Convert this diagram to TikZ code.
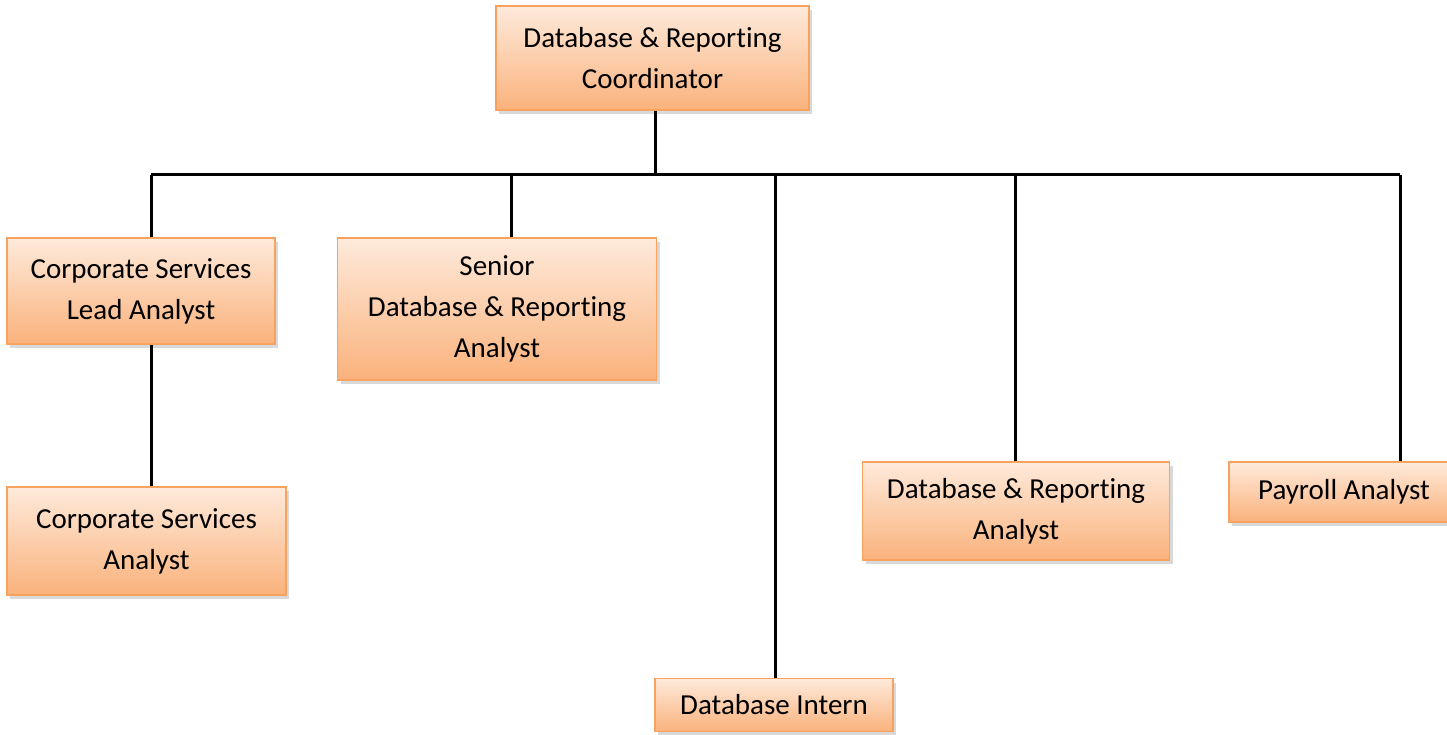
\documentclass[tikz,border=0pt]{standalone}
\usepackage{fontspec}
\setmainfont{Carlito}[Ligatures=NoCommon]
\usetikzlibrary{shadows}
\definecolor{boxtop}{HTML}{FEEADB}
\definecolor{boxbot}{HTML}{FAB27C}
\definecolor{boxline}{HTML}{F7A35F}
\begin{document}
\begin{tikzpicture}[x=1pt,y=-1pt,
    role/.style={rectangle, draw=boxline, line width=1.5pt, top color=boxtop, bottom color=boxbot,
      drop shadow={shadow xshift=3pt, shadow yshift=-4pt, opacity=0.3},
      inner sep=0pt, align=center, font=\fontsize{29}{41}\selectfont},
    link/.style={line width=3pt}]
    \useasboundingbox (0,0) rectangle (1447,735);

    \coordinate (b1) at (151,175);
    \coordinate (b2) at (511,175);
    \coordinate (b3) at (655,175);
    \coordinate (b4) at (775,175);
    \coordinate (b5) at (1015,175);
    \coordinate (b6) at (1400,175);

    \draw[link] (b1) -- (b6);

    \node[role, minimum width=313pt, minimum height=104pt] (coord) at (652.5,58) {Database \& Reporting\\Coordinator};
    \node[role, minimum width=268pt, minimum height=106pt] (cslead) at (141,291) {Corporate Services\\Lead Analyst};
    \node[role, minimum width=279pt, minimum height=108pt] (csanalyst) at (146.5,541) {Corporate Services\\Analyst};
    \node[role, minimum width=319pt, minimum height=142pt] (senior) at (497,309) {Senior\\Database \& Reporting\\Analyst};
    \node[role, minimum width=238pt, minimum height=53pt] (intern) at (774,705) {Database Intern};
    \node[role, minimum width=307pt, minimum height=98pt] (dranalyst) at (1016,511) {Database \& Reporting\\Analyst};
    \node[role, minimum width=230pt, minimum height=60pt] (payroll) at (1344,492) {Payroll Analyst};

    \draw[link] (b3 |- coord.south) -- (b3);
    \draw[link] (b1) -- (b1 |- cslead.north);
    \draw[link] (b1 |- cslead.south) -- (b1 |- csanalyst.north);
    \draw[link] (b2) -- (b2 |- senior.north);
    \draw[link] (b4) -- (b4 |- intern.north);
    \draw[link] (b5) -- (b5 |- dranalyst.north);
    \draw[link] (b6) -- (b6 |- payroll.north);
\end{tikzpicture}
\end{document}
